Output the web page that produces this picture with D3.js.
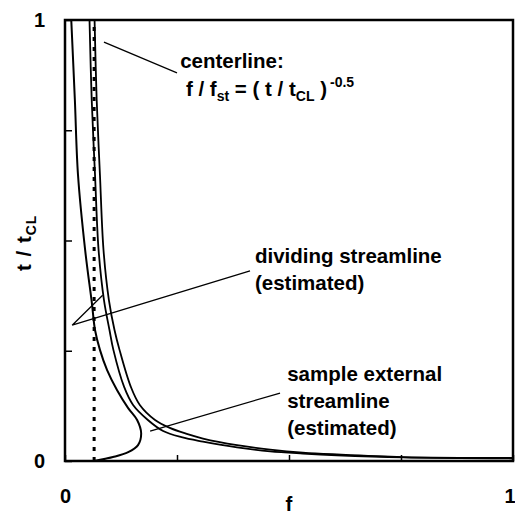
<!DOCTYPE html>
<html>
<head>
<meta charset="utf-8">
<script src="https://cdn.jsdelivr.net/npm/d3@7"></script>
<style>
  body { margin: 0; background: #fff; }
  text { font-family: Arial, "Liberation Sans", sans-serif; font-weight: bold; fill: #000; white-space: pre; }
</style>
</head>
<body>
<svg id="chart" width="515" height="517"></svg>
<script>
// valeurs (f, t/tCL)
const divF = [0.014, 0.022, 0.029, 0.045, 0.060, 0.067, 0.078, 0.094, 0.116, 0.141, 0.161, 0.170, 0.163, 0.141, 0.107, 0.065];
const divT = [1.0, 0.819, 0.649, 0.478, 0.358, 0.297, 0.252, 0.206, 0.161, 0.120, 0.093, 0.063, 0.036, 0.020, 0.009, 0.0];

const innerF = [0.0547, 0.0596, 0.067, 0.075, 0.087, 0.0993, 0.108, 0.132, 0.152, 0.185, 0.219, 0.26, 0.308, 0.384, 0.458, 0.531, 0.607, 0.754, 1.0];
const innerT = [1.0, 0.819, 0.649, 0.478, 0.365, 0.297, 0.252, 0.168, 0.127, 0.093, 0.068, 0.054, 0.044, 0.031, 0.022, 0.017, 0.013, 0.008, 0.0057];

const outerF = [0.066, 0.0707, 0.078, 0.086, 0.098, 0.1105, 0.1217, 0.147, 0.167, 0.201, 0.234, 0.27, 0.308, 0.384, 0.458, 0.531, 0.607, 0.754, 1.0];
const outerT = [1.0, 0.819, 0.649, 0.478, 0.365, 0.297, 0.252, 0.168, 0.127, 0.093, 0.075, 0.062, 0.051, 0.036, 0.026, 0.019, 0.0148, 0.009, 0.0068];

const fSt = 0.065;
const tickVals = [0, 0.25, 0.5, 0.75, 1];
const tickLabels = ["0", "", "", "", "1"];

const svg = d3.select("#chart");
const margin = { top: 20, right: 2, bottom: 56, left: 65 };
const width = 515 - margin.left - margin.right;
const height = 517 - margin.top - margin.bottom;

const g = svg.append("g").attr("transform", `translate(${margin.left},${margin.top})`);

const x = d3.scaleLinear().domain([0, 1]).range([0, width]);
const y = d3.scaleLinear().domain([0, 1]).range([height, 0]);

g.append("clipPath").attr("id", "clip")
  .append("rect").attr("width", width).attr("height", height);

// axes (ticks vers l'intérieur)
const fmt = d => tickLabels[tickVals.indexOf(d)];
const xAxis = g.append("g").attr("transform", `translate(0,${height})`)
  .call(d3.axisBottom(x).tickValues(tickVals).tickSize(-6).tickPadding(28).tickFormat(fmt));
const yAxis = g.append("g")
  .call(d3.axisLeft(y).tickValues(tickVals).tickSize(-7).tickPadding(20).tickFormat(fmt));
[xAxis, yAxis].forEach(a => {
  a.select(".domain").remove();
  a.selectAll(".tick line").attr("stroke", "#000").attr("stroke-width", 1.5);
  a.selectAll("text").attr("font-size", 20).attr("font-family", null);
});
// le "1" de droite touche le bord
xAxis.selectAll(".tick text").filter(d => d === 1).attr("text-anchor", "end").attr("x", 2);

// cadre
g.append("rect").attr("width", width).attr("height", height)
  .attr("fill", "none").attr("stroke", "#000").attr("stroke-width", 2.5);

const line = d3.line().x(d => x(d[0])).y(d => y(d[1])).curve(d3.curveCatmullRom.alpha(0.5));
const plot = g.append("g").attr("clip-path", "url(#clip)");

// f stoechiométrique
plot.append("line")
  .attr("x1", x(fSt)).attr("x2", x(fSt)).attr("y1", y(0)).attr("y2", y(1))
  .attr("stroke", "#000").attr("stroke-width", 3).attr("stroke-dasharray", "4,6");

[[divF, divT], [innerF, innerT], [outerF, outerT]].forEach(([fs, ts], i) => {
  plot.append("path")
    .datum(fs.map((f, k) => [f, ts[k]]))
    .attr("d", line)
    .attr("fill", "none").attr("stroke", "#000")
    .attr("stroke-width", i === 0 ? 2 : 1.8);
});

// lignes de rappel
const leaders = [
  [[0.087, 0.950], [0.250, 0.880]],
  [[0.413, 0.431], [0.016, 0.308], [0.084, 0.376]],
  [[0.190, 0.068], [0.480, 0.154]]
];
leaders.forEach(pts => {
  g.append("path")
    .attr("d", d3.line().x(d => x(d[0])).y(d => y(d[1]))(pts))
    .attr("fill", "none").attr("stroke", "#000").attr("stroke-width", 1.3);
});

// textes
const fs = 20.5, fsSmall = 14;
g.append("text").attr("x", x(0.257)).attr("y", y(0.891)).attr("font-size", fs).text("centerline:");

const formula = g.append("text").attr("x", x(0.270)).attr("y", y(0.828)).attr("font-size", fs);
formula.append("tspan").text("f / f");
formula.append("tspan").attr("font-size", fsSmall).attr("dy", 5).text("st");
formula.append("tspan").attr("dy", -5).text(" = ( t / t");
formula.append("tspan").attr("font-size", fsSmall).attr("dy", 5).text("CL");
formula.append("tspan").attr("dy", -5).text(" )");
formula.append("tspan").attr("font-size", fsSmall).attr("dy", -9).attr("dx", 3).text("-0.5");

g.append("text").attr("x", x(0.424)).attr("y", y(0.449)).attr("font-size", fs).text("dividing streamline");
g.append("text").attr("x", x(0.424)).attr("y", y(0.388)).attr("font-size", fs).text("(estimated)");

g.append("text").attr("x", x(0.496)).attr("y", y(0.181)).attr("font-size", fs).text("sample external");
g.append("text").attr("x", x(0.496)).attr("y", y(0.120)).attr("font-size", fs).text("streamline");
g.append("text").attr("x", x(0.496)).attr("y", y(0.059)).attr("font-size", fs).text("(estimated)");

// titres des axes
svg.append("text").attr("x", margin.left + x(0.5)).attr("y", 511)
  .attr("text-anchor", "middle").attr("font-size", fs).text("f");

const yt = svg.append("text")
  .attr("transform", "translate(31,271) rotate(-90)")
  .attr("font-size", fs).attr("letter-spacing", 1);
yt.append("tspan").text("t / t");
yt.append("tspan").attr("font-size", fsSmall).attr("dy", 5).text("CL");
</script>
</body>
</html>
